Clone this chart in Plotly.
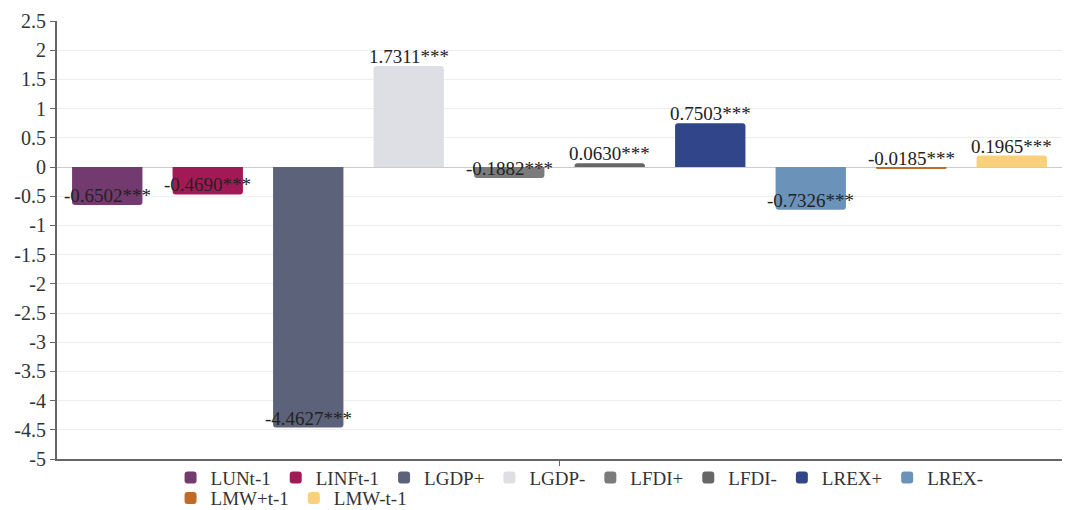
import plotly.graph_objects as go

series_names = ["LUNt-1", "LINFt-1", "LGDP+", "LGDP-", "LFDI+", "LFDI-",
                "LREX+", "LREX-", "LMW+t-1", "LMW-t-1"]
values = [-0.6502, -0.4690, -4.4627, 1.7311, -0.1882, 0.0630,
          0.7503, -0.7326, -0.0185, 0.1965]
labels = ["-0.6502***", "-0.4690***", "-4.4627***", "1.7311***", "-0.1882***",
          "0.0630***", "0.7503***", "-0.7326***", "-0.0185***", "0.1965***"]
colors = ["#733a6f", "#a21a55", "#5d627b", "#dedfe4", "#7b7b7b",
          "#676767", "#30458a", "#6b93b9", "#c06b28", "#fad17b"]
legend_rows = ["legend", "legend", "legend", "legend", "legend", "legend",
               "legend", "legend", "legend2", "legend2"]
tick_vals = [2.5, 2, 1.5, 1, 0.5, 0, -0.5, -1, -1.5, -2, -2.5, -3, -3.5, -4, -4.5, -5]
tick_text = ["2.5", "2", "1.5", "1", "0.5", "0", "-0.5", "-1", "-1.5", "-2",
             "-2.5", "-3", "-3.5", "-4", "-4.5", "-5"]

FONT = "Liberation Serif, Times New Roman, serif"

fig = go.Figure()
for name, v, c, lg in zip(series_names, values, colors, legend_rows):
    fig.add_trace(go.Bar(x=[""], y=[v], name=name, legend=lg,
                         marker=dict(color=c, line=dict(width=0))))

n = len(values)
for i, (v, t) in enumerate(zip(values, labels)):
    fig.add_annotation(x=-0.5 + (i + 0.5) / n, y=v, xref="x", yref="y", text=t,
                       showarrow=False, xanchor="center", yanchor="bottom", yshift=-3,
                       font=dict(family=FONT, size=19, color="#222"))

legend_common = dict(orientation="h", xanchor="left", yanchor="top",
                     font=dict(family=FONT, size=19, color="#333"),
                     itemwidth=30, tracegroupgap=0, traceorder="normal",
                     bgcolor="rgba(0,0,0,0)")

fig.update_layout(
    width=1070, height=510,
    margin=dict(l=57, r=8, t=21, b=51, autoexpand=False),
    paper_bgcolor="white", plot_bgcolor="white",
    barmode="group", bargap=0, bargroupgap=0.3, barcornerradius=3,
    font=dict(family=FONT, size=18, color="#333"),
    showlegend=True,
    legend=dict(x=0.113, y=0.001, **legend_common),
    legend2=dict(x=0.113, y=-0.046, **legend_common),
    xaxis=dict(showgrid=False, showline=True, linecolor="#666", linewidth=2,
               ticks="outside", ticklen=5, tickcolor="#666", showticklabels=False,
               zeroline=False),
    yaxis=dict(range=[-5, 2.5], tickvals=tick_vals, ticktext=tick_text,
               showgrid=True, gridcolor="#eeeeee", gridwidth=1,
               showline=True, linecolor="#666", linewidth=2,
               ticks="outside", ticklen=5, tickcolor="#666",
               zeroline=True, zerolinecolor="#cccccc", zerolinewidth=1,
               tickfont=dict(family=FONT, size=20, color="#333")),
)

fig.write_html("out.html")
